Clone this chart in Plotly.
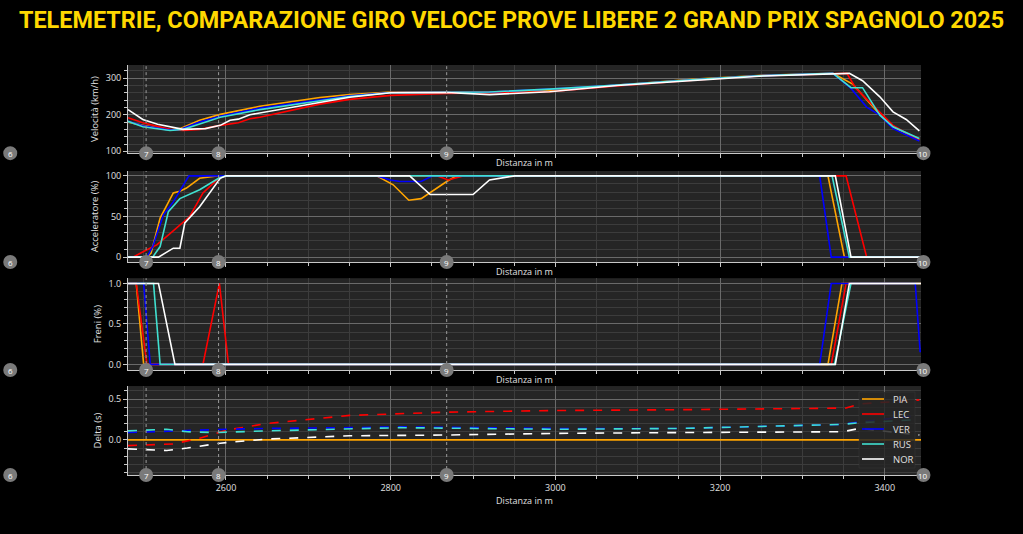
import plotly.graph_objects as go
from plotly.subplots import make_subplots

DRIVERS = ["PIA", "LEC", "VER", "RUS", "NOR"]
COLORS = ["#FFA500", "#FF0000", "#0000FF", "#40E0D0", "#FFFFFF"]

# ---- Speed (km/h) ----
speed_d_pia = [2481, 2499, 2532, 2544, 2568, 2593, 2641, 2714, 2750, 2800, 2868, 2920, 3000, 3075, 3175, 3252, 3337, 3361, 3382, 3394, 3410, 3442]
speed_v_pia = [180, 171, 158, 162, 185, 201, 223, 247, 255, 262, 262, 262, 268, 281, 298, 308, 313, 284, 231, 201, 167, 132]
speed_d_lec = [2481, 2499, 2532, 2548, 2568, 2593, 2615, 2629, 2641, 2714, 2750, 2800, 2868, 2920, 2993, 3075, 3175, 3252, 3354, 3365, 3394, 3410, 3442]
speed_v_lec = [192, 178, 160, 157, 160, 171, 178, 189, 193, 229, 242, 253, 258, 260, 263, 279, 296, 307, 313, 272, 208, 171, 130]
speed_d_ver = [2481, 2499, 2532, 2544, 2568, 2593, 2641, 2714, 2750, 2800, 2868, 2920, 2993, 3075, 3175, 3252, 3337, 3359, 3378, 3394, 3410, 3442]
speed_v_ver = [182, 170, 158, 160, 180, 196, 218, 241, 252, 261, 261, 262, 270, 281, 297, 307, 313, 272, 221, 199, 162, 128]
speed_d_rus = [2481, 2499, 2532, 2548, 2568, 2593, 2641, 2714, 2750, 2800, 2868, 2920, 2993, 3075, 3175, 3252, 3337, 3359, 3373, 3394, 3410, 3442]
speed_v_rus = [182, 167, 157, 160, 175, 193, 214, 238, 250, 260, 261, 262, 270, 281, 297, 307, 313, 274, 274, 199, 167, 135]
speed_d_nor = [2481, 2499, 2517, 2542, 2548, 2575, 2593, 2605, 2615, 2629, 2714, 2750, 2800, 2868, 2920, 2993, 3075, 3175, 3252, 3357, 3373, 3394, 3410, 3426, 3442]
speed_v_nor = [214, 187, 174, 162, 160, 162, 171, 185, 188, 200, 235, 248, 260, 261, 255, 263, 280, 294, 306, 313, 293, 249, 208, 187, 156]

# ---- Throttle (%) ----
thr_d_pia = [2481, 2504, 2509, 2520, 2536, 2544, 2552, 2568, 2589, 2783, 2803, 2822, 2837, 2868, 2880, 3331, 3351, 3444]
thr_v_pia = [0, 0, 5, 48, 79, 81, 85, 97, 100, 100, 89, 70, 72, 93, 100, 100, 0, 0]
thr_d_lec = [2481, 2487, 2504, 2516, 2532, 2556, 2572, 2591, 2600, 2856, 2870, 2888, 3353, 3378, 3444]
thr_v_lec = [0, 0, 9, 15, 29, 50, 79, 97, 100, 100, 95, 100, 100, 0, 0]
thr_d_ver = [2481, 2504, 2511, 2524, 2536, 2555, 2783, 2800, 2811, 2837, 2851, 3321, 3335, 3444]
thr_v_ver = [0, 0, 13, 52, 68, 100, 100, 95, 93, 93, 100, 100, 0, 0]
thr_d_rus = [2481, 2511, 2520, 2530, 2544, 2568, 2591, 2600, 3336, 3357, 3444]
thr_v_rus = [0, 0, 13, 56, 72, 83, 97, 100, 100, 0, 0]
thr_d_nor = [2481, 2518, 2536, 2544, 2550, 2568, 2593, 2600, 2823, 2848, 2900, 2920, 2951, 3340, 3359, 3444]
thr_v_nor = [0, 0, 11, 11, 42, 62, 97, 100, 100, 77, 77, 95, 100, 100, 0, 0]

# ---- Brake ----
brk_d_pia = [2481, 2491, 2500, 3331, 3348, 3444]
brk_v_pia = [1, 1, 0, 0, 1, 1]
brk_d_lec = [2481, 2491, 2504, 2572, 2592, 2603, 3335, 3353, 3444]
brk_v_lec = [1, 1, 0, 0, 1, 0, 0, 1, 1]
brk_d_ver = [2481, 2500, 2508, 3321, 3335, 3437, 3443]
brk_v_ver = [1, 1, 0, 0, 1, 1, 0.15]
brk_d_rus = [2481, 2512, 2520, 3339, 3359, 3444]
brk_v_rus = [1, 1, 0, 0, 1, 1]
brk_d_nor = [2481, 2518, 2538, 3340, 3357, 3444]
brk_v_nor = [1, 1, 0, 0, 1, 1]

# ---- Delta (s) vs PIA ----
dlt_d_pia = [2481, 3444]
dlt_v_pia = [0, 0]
dlt_d_lec = [2481, 2536, 2568, 2601, 2649, 2750, 2868, 3000, 3151, 3353, 3369, 3442]
dlt_v_lec = [-0.07, -0.05, 0.02, 0.12, 0.20, 0.30, 0.34, 0.36, 0.37, 0.39, 0.44, 0.49]
dlt_d_ver = [2481, 2528, 2568, 2601, 2649, 2750, 2811, 3000, 3151, 3349, 3369, 3442]
dlt_v_ver = [0.09, 0.11, 0.12, 0.13, 0.14, 0.15, 0.16, 0.14, 0.14, 0.19, 0.22, 0.30]
dlt_d_rus = [2481, 2528, 2553, 2586, 2649, 2750, 2811, 3000, 3151, 3349, 3369, 3442]
dlt_v_rus = [0.11, 0.13, 0.10, 0.09, 0.11, 0.14, 0.15, 0.13, 0.14, 0.19, 0.21, 0.25]
dlt_d_nor = [2481, 2528, 2553, 2593, 2649, 2750, 2868, 3000, 3151, 3349, 3369, 3442]
dlt_v_nor = [-0.11, -0.13, -0.10, -0.04, 0.01, 0.05, 0.06, 0.08, 0.09, 0.10, 0.14, 0.06]

# ---- Corners ----
corner_num = ["6", "7", "8", "9", "10"]
corner_dist = [2338, 2503, 2591, 2868, 3447]
corner_lines = [2503, 2591, 2868]

X_RANGE = [2481, 3444]
Y_RANGES = [[95, 336], [-6, 106], [-0.07, 1.065], [-0.43, 0.66]]
Y_TITLES = ["Velocità (km/h)", "Acceleratore (%)", "Freni (%)", "Delta (s)"]
Y_DTICK = [100, 50, 0.5, 0.5]
Y_MINOR = [20, 10, 0.1, 0.1]
DOMAINS = [[0.785, 1.0], [0.5195, 0.7415], [0.256, 0.48], [0.0, 0.217]]

W, H = 1023, 534
M_L, M_R, M_T, M_B = 128, 102, 65, 59
PLOT_W = W - M_L - M_R
PLOT_H = H - M_T - M_B

speed = [(speed_d_pia, speed_v_pia), (speed_d_lec, speed_v_lec), (speed_d_ver, speed_v_ver), (speed_d_rus, speed_v_rus), (speed_d_nor, speed_v_nor)]
thr = [(thr_d_pia, thr_v_pia), (thr_d_lec, thr_v_lec), (thr_d_ver, thr_v_ver), (thr_d_rus, thr_v_rus), (thr_d_nor, thr_v_nor)]
brk = [(brk_d_pia, brk_v_pia), (brk_d_lec, brk_v_lec), (brk_d_ver, brk_v_ver), (brk_d_rus, brk_v_rus), (brk_d_nor, brk_v_nor)]
dlt = [(dlt_d_pia, dlt_v_pia), (dlt_d_lec, dlt_v_lec), (dlt_d_ver, dlt_v_ver), (dlt_d_rus, dlt_v_rus), (dlt_d_nor, dlt_v_nor)]

fig = make_subplots(rows=4, cols=1)
FONT = "Open Sans"

for row, channel in enumerate([speed, thr, brk, dlt], start=1):
    for i, (d, v) in enumerate(channel):
        dash = "solid"
        if row == 4 and i > 0:
            dash = "dash"
        fig.add_trace(go.Scatter(
            x=d, y=v, mode="lines", name=DRIVERS[i],
            line=dict(color=COLORS[i], width=1.6, dash=dash),
            showlegend=False, legendgroup=DRIVERS[i],
        ), row=row, col=1)

for row in range(1, 5):
    for cx in corner_lines:
        fig.add_vline(x=cx, row=row, col=1, line=dict(color="#9a9a9a", width=1, dash="dot"))

# corner markers (may lie outside the x range, so placed in paper coords derived from the axis range)
span = X_RANGE[1] - X_RANGE[0]
for row in range(1, 5):
    py = DOMAINS[row - 1][0]
    for num, cd in zip(corner_num, corner_dist):
        px = (cd - X_RANGE[0]) / span
        fig.add_shape(type="circle", xref="paper", yref="paper",
                      xsizemode="pixel", ysizemode="pixel", xanchor=px, yanchor=py,
                      x0=-7, x1=7, y0=-7, y1=7,
                      fillcolor="#7a7a7a", line=dict(width=0), layer="above")
        fig.add_annotation(x=px, y=py, xref="paper", yref="paper", text=num,
                           showarrow=False, xanchor="center", yanchor="middle",
                           font=dict(color="white", size=8, family=FONT))

# compact legend box inside the delta panel (top-right)
def pxx(p):
    return (p - M_L) / PLOT_W

def pxy(p):
    return (H - M_B - p) / PLOT_H

LEG_X0, LEG_X1, LEG_Y0, LEG_Y1 = 859, 915, 392, 468
LEG_ROW0, LEG_ROW_STEP = 399, 15
fig.add_shape(type="rect", xref="paper", yref="paper",
              x0=pxx(LEG_X0), x1=pxx(LEG_X1), y0=pxy(LEG_Y1), y1=pxy(LEG_Y0),
              fillcolor="rgba(38,38,38,0.85)", line=dict(color="rgba(70,70,70,0.6)", width=0.5), layer="above")
for i, (name, col) in enumerate(zip(DRIVERS, COLORS)):
    yy = LEG_ROW0 + i * LEG_ROW_STEP
    fig.add_shape(type="line", xref="paper", yref="paper",
                  x0=pxx(862), x1=pxx(884), y0=pxy(yy), y1=pxy(yy),
                  line=dict(color=col, width=1.6), layer="above")
    fig.add_annotation(x=pxx(891), y=pxy(yy), xref="paper", yref="paper", text=name,
                       showarrow=False, xanchor="left", yanchor="middle",
                       font=dict(color="#e0e0e0", size=9.5, family=FONT))

axis_common = dict(
    showgrid=True, gridcolor="#6a6a6a", gridwidth=1,
    zeroline=False, showline=True, linecolor="#c8c8c8", linewidth=1,
    ticks="outside", ticklen=4, tickcolor="#c8c8c8",
    tickfont=dict(color="#e0e0e0", size=9, family=FONT),
    layer="below traces",
)

for row in range(1, 5):
    xa = dict(axis_common)
    xa.update(
        range=X_RANGE, dtick=200, tick0=2600,
        showticklabels=(row == 4),
        minor=dict(dtick=50, showgrid=True, gridcolor="#3c3c3c", ticks="outside", ticklen=3, tickcolor="#c8c8c8"),
        title=dict(text="Distanza in m", font=dict(color="#e0e0e0", size=9, family=FONT), standoff=2),
    )
    fig.update_xaxes(xa, row=row, col=1)
    ya = dict(axis_common)
    ya.update(
        range=Y_RANGES[row - 1], dtick=Y_DTICK[row - 1], tick0=0,
        minor=dict(dtick=Y_MINOR[row - 1], showgrid=True, gridcolor="#3c3c3c", ticks="outside", ticklen=3, tickcolor="#c8c8c8"),
        title=dict(text=Y_TITLES[row - 1], font=dict(color="#e0e0e0", size=9.5, family=FONT), standoff=5),
        domain=DOMAINS[row - 1],
    )
    if row >= 3:
        ya["tickformat"] = ".1f"
    fig.update_yaxes(ya, row=row, col=1)

fig.update_layout(
    width=W, height=H,
    paper_bgcolor="#000000", plot_bgcolor="#252525",
    margin=dict(l=M_L, r=M_R, t=M_T, b=M_B),
    title=dict(
        text="TELEMETRIE, COMPARAZIONE GIRO VELOCE PROVE LIBERE 2 GRAND PRIX SPAGNOLO 2025",
        font=dict(family="Roboto", size=23.4, color="#FFD800", weight="bold"),
        x=0.5, xanchor="center", y=0.962, yanchor="middle",
    ),
    showlegend=False,
)

fig.write_html("out.html")
